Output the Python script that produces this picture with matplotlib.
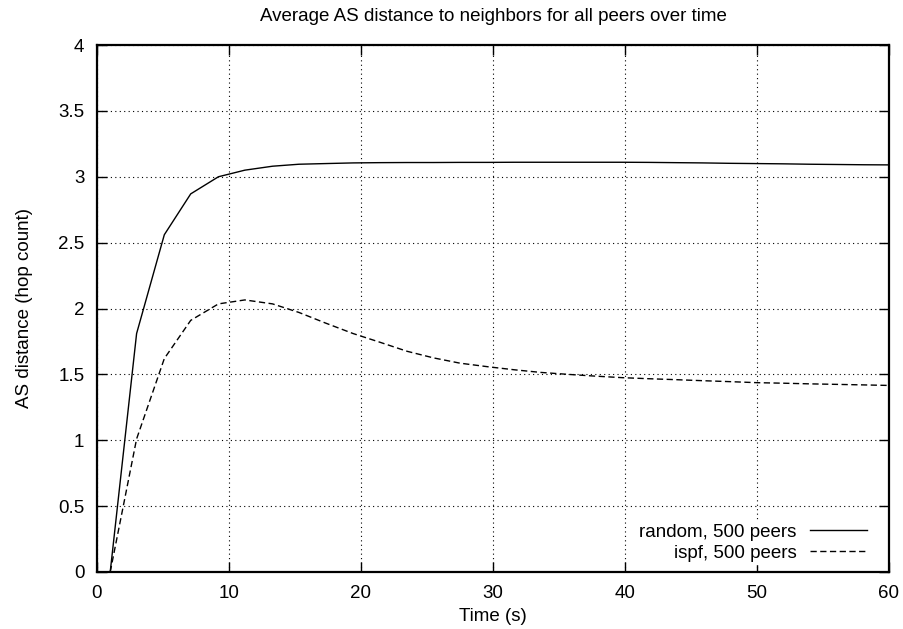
import matplotlib
matplotlib.use("Agg")
import matplotlib.pyplot as plt

plt.rcParams['font.family'] = ['Liberation Sans', 'DejaVu Sans']

# sample times (s)
time_s = [1.0, 3.0, 5.1, 7.1, 9.2, 11.2, 13.3, 15.3, 17.3, 19.4,
          21.4, 23.5, 25.5, 27.5, 29.6, 31.6, 33.6, 35.7, 37.7, 39.8,
          41.8, 43.8, 45.9, 47.9, 50.0, 52.0, 54.0, 56.1, 58.1, 60.0]

random_dist = [0.0, 1.81, 2.56, 2.87, 3.0, 3.05, 3.08, 3.095, 3.10, 3.105,
               3.107, 3.108, 3.108, 3.109, 3.109, 3.11, 3.11, 3.11, 3.11, 3.11,
               3.109, 3.107, 3.105, 3.102, 3.10, 3.098, 3.095, 3.093, 3.091, 3.09]

ispf_dist = [0.0, 1.01, 1.62, 1.91, 2.035, 2.065, 2.035, 1.97, 1.89, 1.81,
             1.745, 1.675, 1.625, 1.585, 1.558, 1.535, 1.515, 1.50, 1.487, 1.475,
             1.467, 1.46, 1.452, 1.445, 1.437, 1.433, 1.428, 1.424, 1.42, 1.416]

labels = ['random, 500 peers', 'ispf, 500 peers']
xticks = [0, 10, 20, 30, 40, 50, 60]
yticks = [0, 0.5, 1, 1.5, 2, 2.5, 3, 3.5, 4]

fs = 13.5

fig = plt.figure(figsize=(9.04, 6.29), dpi=100)
ax = fig.add_axes([97 / 904, 57 / 629, 792 / 904, 527 / 629])

ax.plot(time_s, random_dist, color='black', lw=1.0, label=labels[0])
ax.plot(time_s, ispf_dist, color='black', lw=1.0, dashes=(4.5, 2.5), label=labels[1])

ax.set_xlim(0, 60)
ax.set_ylim(0, 4)
ax.set_xticks(xticks)
ax.set_yticks(yticks)
ax.set_yticklabels(['0', '0.5', '1', '1.5', '2', '2.5', '3', '3.5', '4'])
ax.tick_params(direction='in', length=7, width=1, top=True, right=True,
               labelsize=fs, pad=9)
ax.grid(True, color='black', linestyle=(0, (1, 3)), linewidth=0.8)
for s in ax.spines.values():
    s.set_linewidth(1.6)
    s.set_zorder(5)

ax.set_title('Average AS distance to neighbors for all peers over time', fontsize=fs, pad=17)
ax.set_xlabel('Time (s)', fontsize=fs, labelpad=5)
ax.set_ylabel('AS distance (hop count)', fontsize=fs, labelpad=18)

leg = ax.legend(loc='lower right', frameon=True, fontsize=fs, markerfirst=False,
                handlelength=3.0, handletextpad=0.75, borderpad=0.1,
                labelspacing=0.2, fancybox=False,
                bbox_to_anchor=(878 / 904, (629 - 573) / 629),
                bbox_transform=fig.transFigure)
leg.get_frame().set_edgecolor('white')
leg.get_frame().set_alpha(1)
for t in leg.get_texts():
    t.set_ha('right')
leg._legend_box.align = 'right'

fig.savefig('out.png', dpi=100)
